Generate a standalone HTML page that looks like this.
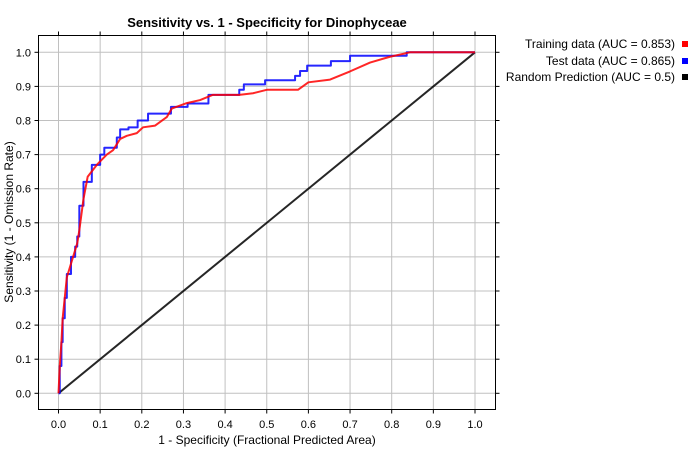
<!DOCTYPE html>
<html><head><meta charset="utf-8">
<style>
body{margin:0;background:#fff;width:700px;height:450px;overflow:hidden;font-family:"Liberation Sans",sans-serif;}
svg text{font-family:"Liberation Sans",sans-serif;}
</style></head>
<body>
<svg id="chart" width="700" height="450">
<text x="267" y="27" text-anchor="middle" font-size="13" font-weight="bold">Sensitivity vs. 1 - Specificity for Dinophyceae</text>
<g id="grid"></g>
<rect x="38.5" y="35.5" width="457" height="374" fill="none" stroke="#000" stroke-width="1"/>
<g id="axes"></g>
<g id="series"></g>
<text x="267" y="444" text-anchor="middle" font-size="12">1 - Specificity  (Fractional Predicted Area)</text>
<text transform="translate(13,222) rotate(-90)" text-anchor="middle" font-size="12">Sensitivity  (1 - Omission Rate)</text>
<g>
<g><text x="675" y="48" text-anchor="end" font-size="12">Training data (AUC = 0.853)</text><rect x="682" y="41" width="6" height="6" fill="#ff0000"/></g>
<g><text x="675" y="65" text-anchor="end" font-size="12">Test data (AUC = 0.865)</text><rect x="682" y="58" width="6" height="6" fill="#0000ff"/></g>
<g><text x="675" y="81" text-anchor="end" font-size="12">Random Prediction (AUC = 0.5)</text><rect x="682" y="74" width="6" height="6" fill="#000"/></g>
</g>
</svg>
<script>
const xTicks=[0,0.1,0.2,0.3,0.4,0.5,0.6,0.7,0.8,0.9,1.0];
const yTicks=[0,0.1,0.2,0.3,0.4,0.5,0.6,0.7,0.8,0.9,1.0];
const testFpr=[0,0.003,0.007,0.01,0.015,0.02,0.03,0.04,0.045,0.05,0.06,0.08,0.1,0.11,0.13,0.14,0.148,0.168,0.19,0.215,0.263,0.27,0.3,0.31,0.36,0.434,0.445,0.496,0.568,0.58,0.597,0.654,0.70,0.836,1.0];
const testTpr=[0,0.08,0.15,0.22,0.28,0.35,0.40,0.43,0.46,0.55,0.62,0.67,0.70,0.72,0.72,0.75,0.774,0.78,0.80,0.82,0.82,0.84,0.84,0.85,0.875,0.89,0.906,0.918,0.931,0.945,0.961,0.974,0.99,1.0,1.0];
const trainFpr=[0,0.003,0.007,0.01,0.015,0.02,0.03,0.04,0.045,0.05,0.06,0.07,0.092,0.116,0.131,0.148,0.164,0.188,0.203,0.232,0.26,0.272,0.308,0.34,0.37,0.434,0.467,0.5,0.575,0.6,0.652,0.70,0.748,0.796,0.844,1.0];
const trainTpr=[0,0.08,0.15,0.22,0.28,0.34,0.38,0.42,0.44,0.478,0.57,0.635,0.67,0.70,0.713,0.746,0.755,0.763,0.78,0.785,0.81,0.835,0.851,0.86,0.875,0.875,0.88,0.89,0.89,0.912,0.92,0.944,0.97,0.987,1.0,1.0];
const randFpr=[0,1];
const randTpr=[0,1];
const NS="http://www.w3.org/2000/svg";
const X=v=>58.5+v*416.5;
const Y=v=>393.3-v*341;
const grid=document.getElementById('grid'),axes=document.getElementById('axes'),series=document.getElementById('series');
function mk(tag,attrs,parent){const e=document.createElementNS(NS,tag);for(const k in attrs)e.setAttribute(k,attrs[k]);parent.appendChild(e);return e;}
xTicks.forEach(t=>{
  const l=mk('line',{x1:X(t),x2:X(t),y1:35.5,y2:409.5,stroke:'#c0c0c0','stroke-width':1},grid);
  
  
  mk('line',{x1:X(t),x2:X(t),y1:409.5,y2:413.5,stroke:'#000'},axes);
  mk('line',{x1:X(t),x2:X(t),y1:35.5,y2:31.5,stroke:'#000'},axes);
  const tx=mk('text',{x:X(t),y:428,'text-anchor':'middle','font-size':11},axes);
  tx.textContent=t.toFixed(1);
  
  
});
yTicks.forEach(t=>{
  const l=mk('line',{x1:38.5,x2:495.5,y1:Y(t),y2:Y(t),stroke:'#c0c0c0','stroke-width':1},grid);
  
  
  mk('line',{x1:34.5,x2:38.5,y1:Y(t),y2:Y(t),stroke:'#000'},axes);
  mk('line',{x1:495.5,x2:499.5,y1:Y(t),y2:Y(t),stroke:'#000'},axes);
  const tx=mk('text',{x:31,y:Y(t)+4,'text-anchor':'end','font-size':11},axes);
  tx.textContent=t.toFixed(1);
  
  
});
function line(xs,ys,color,step){
  let pts=[];
  xs.forEach((v,i)=>{ if(step&&i>0) pts.push(X(v)+','+Y(ys[i-1])); pts.push(X(v)+','+Y(ys[i])); });
  return mk('polyline',{points:pts.join(' '),fill:'none',stroke:color,'stroke-width':2,'stroke-opacity':0.85,'stroke-linejoin':'round'},series);
}
const r=line(randFpr,randTpr,'#000',false);


const b=line(testFpr,testTpr,'#0000ff',true);


const rd=line(trainFpr,trainTpr,'#ff0000',false);


</script>
</body></html>
